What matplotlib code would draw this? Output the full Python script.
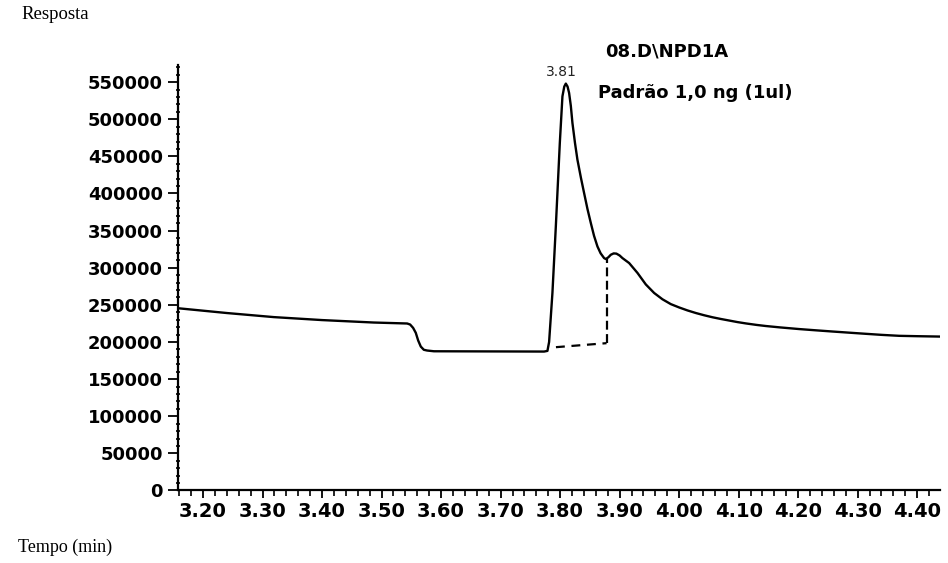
import matplotlib
matplotlib.use("Agg")
from matplotlib import pyplot as plt
from matplotlib.ticker import MultipleLocator, FormatStrFormatter

# chromatogram trace (time in min, response)
TIME = [3.156, 3.24, 3.319, 3.40, 3.487, 3.543, 3.548, 3.553, 3.5575, 3.5615,
        3.5659, 3.571, 3.5765, 3.588, 3.7731, 3.7787, 3.7815, 3.7871, 3.7928,
        3.7995, 3.8039, 3.807, 3.8096, 3.8125, 3.8151, 3.818, 3.8207, 3.825,
        3.8291, 3.835, 3.8403, 3.846, 3.8516, 3.857, 3.8627, 3.868, 3.8739,
        3.8768, 3.881, 3.8852, 3.89, 3.8946, 3.90, 3.9047, 3.916, 3.93, 3.944,
        3.958, 3.972, 3.986, 4.000, 4.014, 4.0281, 4.042, 4.056, 4.07, 4.084,
        4.098, 4.1121, 4.13, 4.1457, 4.17, 4.2017, 4.23, 4.2576, 4.29, 4.3138,
        4.34, 4.3697, 4.40, 4.437]
RESPONSE = [245600, 239000, 233500, 229500, 226200, 224900, 223500, 219000,
            212300, 202000, 193800, 189500, 188500, 187500, 187100, 188000,
            200000, 266200, 355600, 468000, 530800, 544000, 548000, 544000,
            535400, 518000, 495000, 468000, 445500, 421000, 400600, 379000,
            360200, 343000, 328700, 319500, 313000, 311700, 314000, 317500,
            319300, 319000, 316500, 313000, 306300, 293000, 277500, 266000,
            257500, 251000, 246500, 242500, 239000, 236000, 233300, 231000,
            228900, 226800, 225000, 223000, 221500, 219600, 217400, 215700,
            214100, 212300, 211000, 209600, 208300, 207800, 207300]

# integration baseline and drop line
BASELINE_TIME = [3.793, 3.878]
BASELINE_RESP = [193000, 198400]
DROP_TIME = [3.878, 3.878]
DROP_RESP = [198400, 311700]

PEAK_TIME = 3.8096
PEAK_RESP = 548000
PEAK_LABEL = "3.81"

X_TICKS = [3.20, 3.30, 3.40, 3.50, 3.60, 3.70, 3.80, 3.90, 4.00, 4.10, 4.20, 4.30, 4.40]
Y_TICKS = [0, 50000, 100000, 150000, 200000, 250000, 300000, 350000, 400000,
           450000, 500000, 550000]


def draw_chromatogram():
    fig = plt.figure(figsize=(9.48, 5.63), dpi=100)
    ax = fig.add_axes([0.1878, 0.1288, 0.804, 0.7557])

    ax.plot(TIME, RESPONSE, color="black", lw=1.7)
    ax.plot(BASELINE_TIME, BASELINE_RESP, color="black", lw=1.6, dashes=(4, 3))
    ax.plot(DROP_TIME, DROP_RESP, color="black", lw=1.6, dashes=(4, 2))
    ax.annotate(PEAK_LABEL, (PEAK_TIME, PEAK_RESP), xytext=(-3, 3),
                textcoords="offset points", ha="center", va="bottom",
                fontsize=10, family="DejaVu Sans", color="#222222")

    ax.set_xlim(3.158, 4.4387)
    ax.set_ylim(0, 573000)
    ax.set_xticks(X_TICKS)
    ax.set_yticks(Y_TICKS)
    ax.xaxis.set_major_formatter(FormatStrFormatter("%.2f"))
    ax.xaxis.set_minor_locator(MultipleLocator(0.02))
    ax.yaxis.set_minor_locator(MultipleLocator(10000))

    for side in ["top", "right"]:
        ax.spines[side].set_visible(False)
    for side in ["left", "bottom"]:
        ax.spines[side].set_linewidth(1.6)

    ax.tick_params(axis="x", which="major", length=6, width=1.3, pad=2,
                   labelsize=14)
    ax.tick_params(axis="x", which="minor", length=4, width=1.2)
    ax.tick_params(axis="y", which="major", length=7, width=1.3, pad=4,
                   labelsize=13)
    ax.tick_params(axis="y", which="minor", length=3, width=1.2,
                   direction="inout")
    for lbl in ax.get_xticklabels() + ax.get_yticklabels():
        lbl.set_fontweight("bold")

    fig.text(0.023, 0.975, "Resposta", family="Liberation Serif", fontsize=13.5,
             va="center", ha="left")
    fig.text(0.019, 0.027, "Tempo (min)", family="Liberation Serif", fontsize=13,
             va="center", ha="left")
    fig.text(0.703, 0.908, "08.D\\NPD1A", fontsize=13, fontweight="bold",
             ha="center", va="center")
    fig.text(0.631, 0.835, "Padrão 1,0 ng (1ul)", fontsize=13,
             fontweight="bold", ha="left", va="center")

    fig.savefig("out.png", dpi=100)


if __name__ == "__main__":
    draw_chromatogram()
